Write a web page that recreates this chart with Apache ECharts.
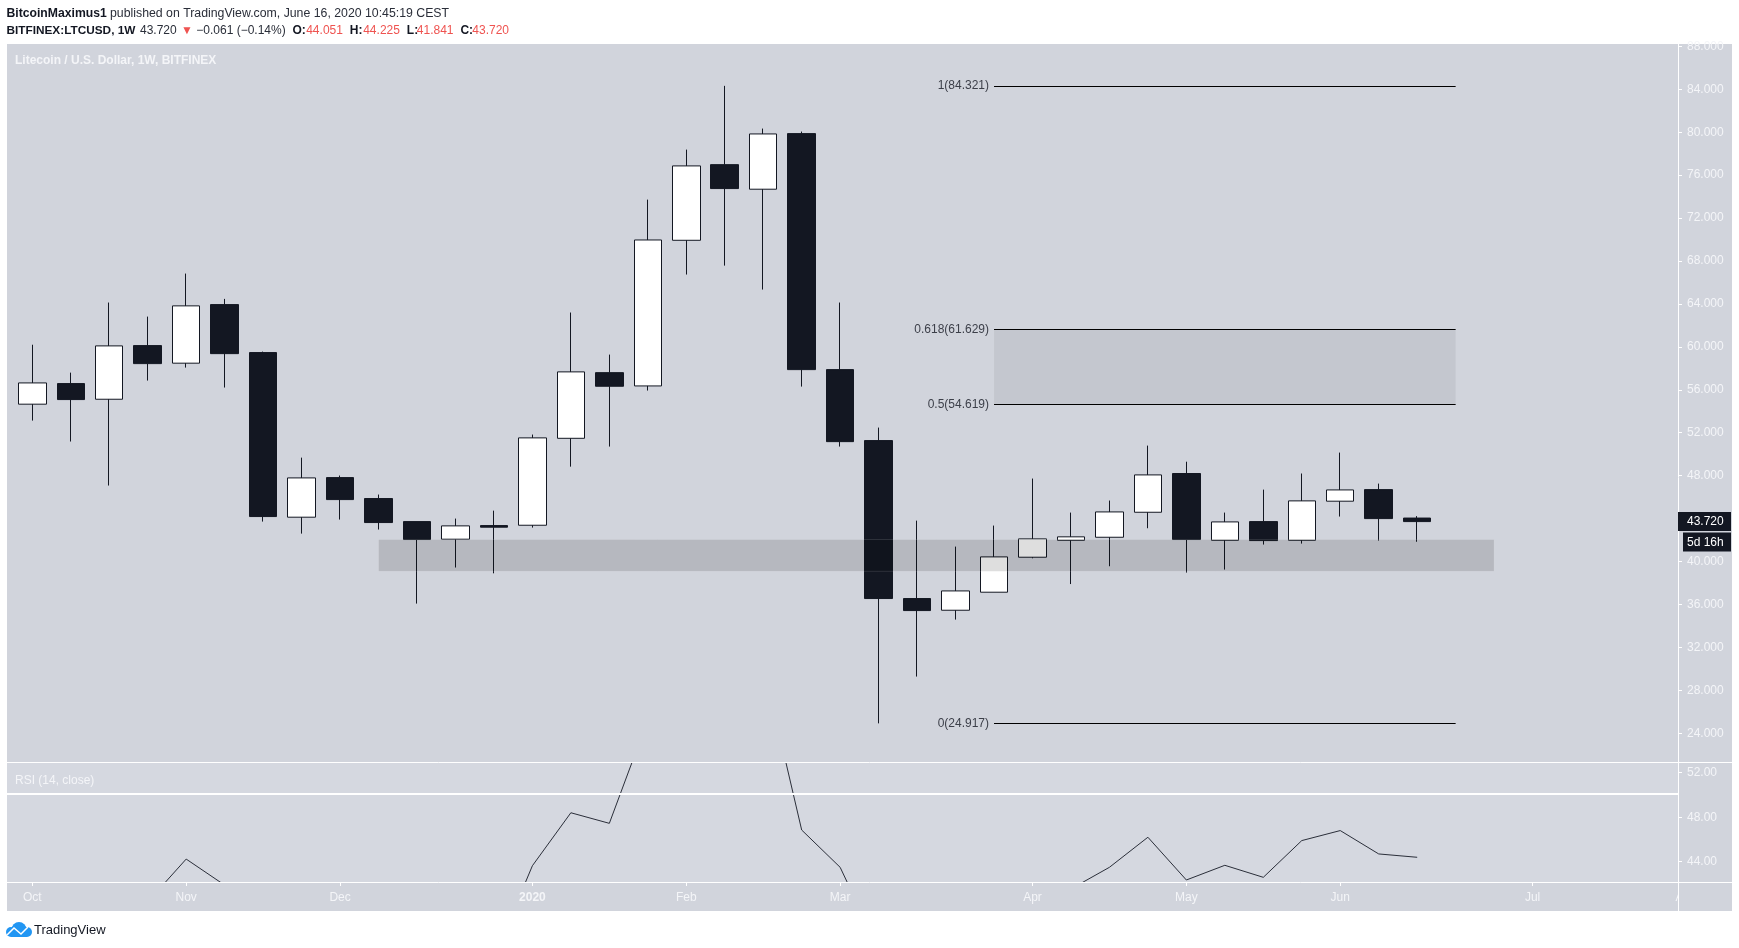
<!DOCTYPE html>
<html>
<head>
<meta charset="utf-8">
<title>LTCUSD 1W</title>
<style>
  html, body { margin: 0; padding: 0; background: #fff; }
  #chart { width: 1739px; height: 948px; }
</style>
<script src="https://cdn.jsdelivr.net/npm/echarts@6/dist/echarts.min.js"></script>
</head>
<body>
<div id="chart"></div>
<script>
(function () {
  "use strict";

  // weekly candles (x is the bar number)
  const opens = [54.66, 56.58, 55.12, 60.12, 58.48, 63.94, 59.47, 44.13, 47.82, 45.87, 43.72, 42.08, 43.35,
    43.38, 51.48, 57.6, 56.36, 69.93, 76.98, 74.69, 79.87, 57.88, 51.27, 36.55, 35.46, 37.14, 40.4, 41.98,
    42.26, 44.59, 48.2, 41.98, 43.72, 41.98, 45.62, 46.7, 44.05];
  const closes = [56.64, 55.09, 60.09, 58.44, 63.82, 59.37, 44.19, 47.79, 45.77, 43.63, 42.05, 43.32, 43.2,
    51.52, 57.67, 56.33, 69.96, 76.86, 74.75, 79.84, 57.88, 51.17, 36.55, 35.43, 37.26, 40.43, 42.11, 42.3,
    44.62, 48.07, 42.05, 43.69, 41.95, 45.65, 46.67, 44.0, 43.72];
  const lows = [53.13, 51.18, 47.08, 56.86, 58.07, 56.21, 43.72, 42.6, 43.91, 42.98, 36.08, 39.44, 38.9,
    43.16, 48.84, 50.71, 55.93, 66.74, 67.57, 65.34, 56.3, 50.71, 24.92, 29.28, 34.59, 37.14, 40.3, 37.9,
    39.56, 43.1, 38.97, 39.25, 41.58, 41.67, 44.19, 41.95, 41.84];
  const highs = [60.2, 57.6, 64.13, 62.82, 66.83, 64.47, 59.56, 49.68, 48.01, 46.24, 43.72, 44.0, 44.74,
    51.83, 63.2, 59.28, 73.72, 78.38, 84.32, 80.34, 80.06, 64.13, 52.48, 43.81, 41.39, 43.35, 47.73, 44.56,
    45.68, 50.8, 49.3, 44.56, 46.7, 48.2, 50.15, 47.26, 44.23];

  // most of this runs outside the visible RSI window, those points are estimates
  const rsi = [null, null, null, 40.4, 44.24, 41.9, 36.0, 37.5, 36.5, 35.5, 34.5, 35.2, 35.4,
    43.64, 48.4, 47.45, 56.74, 60.0, 60.5, 61.65, 46.85, 43.5, 36.2, 38.2, 39.0, 40.0, 40.5, 41.56,
    43.5, 46.2, 42.36, 43.68, 42.6, 45.9, 46.8, 44.7, 44.4];

  const priceTicks = [88, 84, 80, 76, 72, 68, 64, 60, 56, 52, 48, 44, 40, 36, 32, 28, 24];
  const rsiTicks = [52, 48, 44];
  const timeTicks = [0, 4, 8, 13, 17, 21, 26, 30, 34, 39];
  const timeLabels = ["Oct", "Nov", "Dec", "2020", "Feb", "Mar", "Apr", "May", "Jun", "Jul"];

  const fibLevels = [84.321, 61.629, 54.619, 24.917];
  const fibNames = ["1", "0.618", "0.5", "0"];
  const fibBars = [25, 37];
  const zoneBars = [9, 38];
  const zonePrices = [39.09, 42.05];
  const lastClose = 43.72;

  const dark = "#131722";
  const panel = "#d1d4dc";
  const axisText = "#f4f5f8";
  const font = "'Liberation Sans', Arial, sans-serif";

  const chart = echarts.init(document.getElementById("chart"), null, { renderer: "canvas" });

  function fibLine(level, i) {
    return [
      {
        coord: [fibBars[0], level],
        label: { formatter: `${fibNames[i]}(${level.toFixed(3)})` }
      },
      { coord: [fibBars[1], level] }
    ];
  }

  function txt(x, y, text, fill, weight, size) {
    return {
      type: "text",
      x: x,
      y: y,
      z: 10,
      silent: true,
      style: {
        text: text,
        fill: fill,
        font: `${weight || "normal"} ${size || 12}px ${font}`,
        textVerticalAlign: "middle"
      }
    };
  }

  function hline(y, x1, x2, z) {
    return {
      type: "line",
      z: z || 8,
      silent: true,
      shape: { x1: x1, y1: y, x2: x2, y2: y },
      style: { stroke: "#fff", lineWidth: 1 }
    };
  }

  const xBase = {
    type: "value",
    min: -0.658,
    max: 42.78,
    splitLine: { show: false },
    axisLine: { show: false, onZero: false }
  };

  const yBase = {
    type: "value",
    position: "right",
    splitLine: { show: false },
    axisLine: { show: false, onZero: false }
  };

  chart.setOption({
    animation: false,
    backgroundColor: "#fff",
    grid: [
      { left: 7, right: 61, top: 44, height: 718, show: false },
      { left: 7, right: 61, top: 763, height: 119, show: true, backgroundColor: "#d5d8e0", borderWidth: 0 }
    ],
    xAxis: [
      Object.assign({}, xBase, {
        gridIndex: 0,
        axisTick: { show: false },
        axisLabel: { show: false }
      }),
      Object.assign({}, xBase, {
        gridIndex: 1,
        axisTick: {
          show: true,
          customValues: timeTicks,
          length: 4,
          lineStyle: { color: "#fff", width: 1 }
        },
        axisLabel: {
          show: true,
          customValues: timeTicks,
          margin: 10,
          color: axisText,
          fontFamily: font,
          fontSize: 12,
          hideOverlap: false,
          formatter(value) {
            const label = timeLabels[timeTicks.indexOf(value)];
            return label === "2020" ? "{b|2020}" : label;
          },
          rich: { b: { fontWeight: "bold", color: axisText, fontFamily: font, fontSize: 12 } }
        }
      })
    ],
    yAxis: [
      Object.assign({}, yBase, {
        gridIndex: 0,
        min: 21.32,
        max: 88.22,
        axisTick: {
          show: true,
          customValues: priceTicks,
          length: 4,
          lineStyle: { color: "#fff", width: 1 }
        },
        axisLabel: {
          show: true,
          customValues: priceTicks,
          margin: 9,
          padding: [4, 0, 0, 0],
          color: axisText,
          fontFamily: font,
          fontSize: 12,
          formatter: (value) => value.toFixed(3)
        }
      }),
      Object.assign({}, yBase, {
        gridIndex: 1,
        min: 42.18,
        max: 52.87,
        axisTick: {
          show: true,
          customValues: rsiTicks,
          length: 4,
          lineStyle: { color: "#fff", width: 1 }
        },
        axisLabel: {
          show: true,
          customValues: rsiTicks,
          margin: 9,
          padding: [4, 0, 0, 0],
          color: axisText,
          fontFamily: font,
          fontSize: 12,
          formatter: (value) => value.toFixed(2)
        }
      })
    ],
    series: [
      {
        name: "LTCUSD",
        type: "candlestick",
        xAxisIndex: 0,
        yAxisIndex: 0,
        barWidth: 28,
        encode: { x: 0, y: [1, 2, 3, 4] },
        itemStyle: {
          color: "#fff",
          color0: dark,
          borderColor: dark,
          borderColor0: dark,
          borderWidth: 1
        },
        data: opens.map((open, i) => [i, open, closes[i], lows[i], highs[i]]),
        markLine: {
          silent: true,
          symbol: "none",
          animation: false,
          lineStyle: { color: "#000", width: 1, type: "solid" },
          label: {
            show: true,
            position: "start",
            distance: 5,
            color: "#3c3f49",
            fontFamily: font,
            fontSize: 12
          },
          data: fibLevels.map(fibLine)
        },
        markArea: {
          silent: true,
          animation: false,
          z: 5,
          data: [
            [
              {
                coord: [zoneBars[0], zonePrices[1]],
                itemStyle: { color: "rgba(0,0,0,0.13)", borderColor: "rgba(255,255,255,0.12)", borderWidth: 1 }
              },
              { coord: [zoneBars[1], zonePrices[0]] }
            ],
            [
              {
                coord: [fibBars[0], fibLevels[1]],
                itemStyle: { color: "rgba(0,0,0,0.06)" }
              },
              { coord: [fibBars[1], fibLevels[2]] }
            ]
          ]
        }
      },
      {
        name: "RSI",
        type: "line",
        xAxisIndex: 1,
        yAxisIndex: 1,
        showSymbol: false,
        symbol: "none",
        connectNulls: false,
        lineStyle: { color: "#2a2e39", width: 1 },
        data: rsi.map((v, i) => [i, v]),
        markLine: {
          silent: true,
          symbol: "none",
          animation: false,
          label: { show: false },
          lineStyle: { color: "#fff", width: 2, type: "solid" },
          data: [{ yAxis: 50.1 }]
        }
      }
    ]
  });

  const lastY = chart.convertToPixel({ yAxisIndex: 0 }, lastClose);

  chart.setOption({
    graphic: [
      // panel behind the chart
      {
        type: "rect",
        z: -1,
        silent: true,
        shape: { x: 7, y: 44, width: 1725, height: 867 },
        style: { fill: panel }
      },
      // Aug tick label is cut off by the price scale
      txt(1675.5, 897.5, "Aug", axisText),
      {
        type: "rect",
        z: 11,
        silent: true,
        shape: { x: 1678, y: 883, width: 54, height: 28 },
        style: { fill: panel }
      },
      hline(762.5, 7, 1732, 12),
      hline(882.5, 7, 1732, 12),
      {
        type: "line",
        z: 12,
        silent: true,
        shape: { x1: 1678.5, y1: 44, x2: 1678.5, y2: 911 },
        style: { stroke: "#fff", lineWidth: 1 }
      },

      // header
      txt(6.5, 13.5, "BitcoinMaximus1", dark, "bold", 12.2),
      txt(110, 13.5, "published on TradingView.com, June 16, 2020 10:45:19 CEST", "#2a2e39", "normal", 12.3),
      txt(6.5, 31, "BITFINEX:LTCUSD, 1W", dark, "bold", 11.8),
      txt(140, 31, "43.720", "#2a2e39"),
      txt(181, 31, "▼", "#ef5350", "normal", 12),
      txt(196.3, 31, "−0.061 (−0.14%)", "#2a2e39"),
      txt(292.4, 31, "O:", dark, "bold"),
      txt(306.2, 31, "44.051", "#ef5350"),
      txt(349.8, 31, "H:", dark, "bold"),
      txt(363.2, 31, "44.225", "#ef5350"),
      txt(406.8, 31, "L:", dark, "bold"),
      txt(416.8, 31, "41.841", "#ef5350"),
      txt(460.4, 31, "C:", dark, "bold"),
      txt(472.3, 31, "43.720", "#ef5350"),

      // pane titles
      txt(15, 61, "Litecoin / U.S. Dollar, 1W, BITFINEX", axisText, "bold"),
      txt(15, 780.5, "RSI (14, close)", axisText),

      // last price tags
      {
        type: "rect",
        z: 13,
        silent: true,
        shape: { x: 1678, y: lastY - 9.5, width: 53, height: 19 },
        style: { fill: dark }
      },
      {
        type: "rect",
        z: 13,
        silent: true,
        shape: { x: 1683, y: lastY + 11, width: 48, height: 19 },
        style: { fill: dark }
      },
      Object.assign(txt(1687, lastY + 0.5, lastClose.toFixed(3), "#fff"), { z: 14 }),
      Object.assign(txt(1687, lastY + 21, "5d 16h", "#fff"), { z: 14 }),

      // footer logo
      { type: "circle", z: 10, silent: true, shape: { cx: 19, cy: 929.5, r: 7.5 }, style: { fill: "#2196f3" } },
      { type: "circle", z: 10, silent: true, shape: { cx: 11, cy: 932, r: 5 }, style: { fill: "#2196f3" } },
      { type: "circle", z: 10, silent: true, shape: { cx: 27, cy: 932, r: 5 }, style: { fill: "#2196f3" } },
      { type: "rect", z: 10, silent: true, shape: { x: 11, y: 931, width: 16, height: 6 }, style: { fill: "#2196f3" } },
      {
        type: "polyline",
        z: 11,
        silent: true,
        shape: { points: [[7, 935], [14, 928], [21, 934], [28, 927]] },
        style: { stroke: "#fff", fill: null, lineWidth: 1.5 }
      },
      txt(34, 930.5, "TradingView", dark, "normal", 13)
    ]
  });

  window.addEventListener("resize", () => chart.resize());
})();
</script>
</body>
</html>
